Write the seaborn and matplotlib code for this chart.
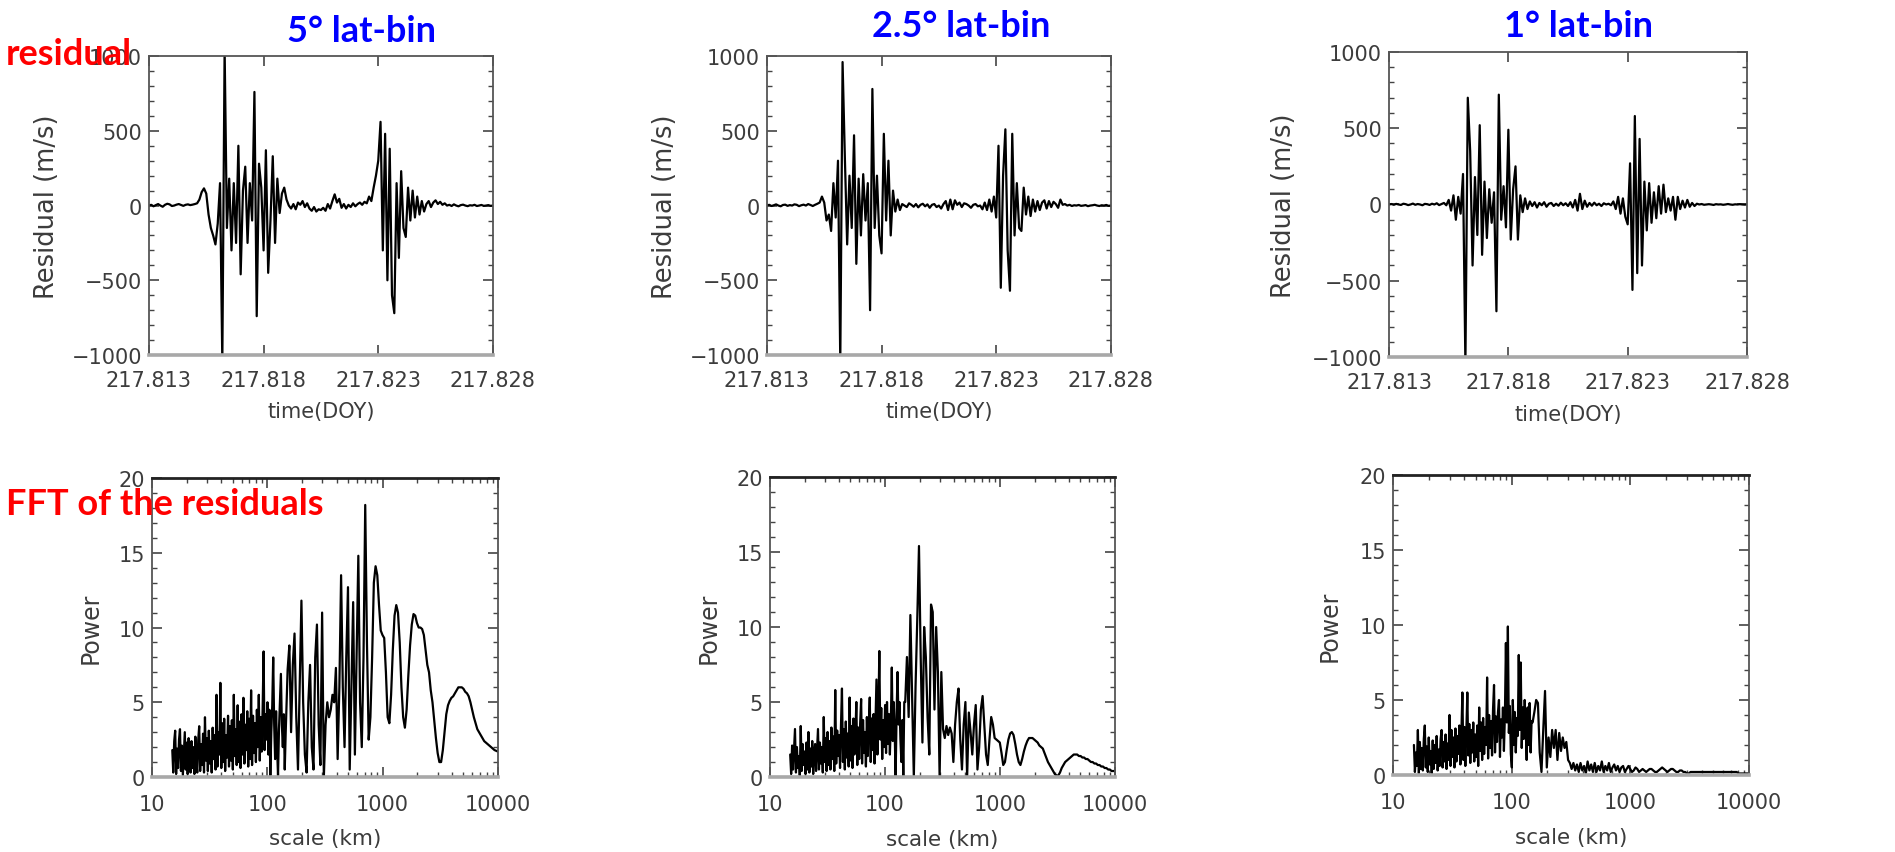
import numpy as np
import seaborn as sns
import matplotlib.pyplot as plt
from matplotlib.ticker import AutoMinorLocator, LogLocator, NullFormatter, NullLocator

# residual time series (m/s), one sample every 0.0001 DOY from 217.813 to 217.828
resid_5deg = [
    0, 5, -5, 3, 10, 0, -8, 5, 12, 8, -3, 0, 6, 10, 4, -2, 5, 8, 3, 6, 10, 15,
    40, 90, 115, 80, -60, -150, -200, -260, -120, 150,
    -1050, 1050, -150, 180, -300, 150, -250, 400, -460, 100,
    260, -250, 150, -100, 760, -740, 280, 120, -300, 370,
    -450, -100, 330, -250, 180, -50, 80, 120, 40, 0,
    -20, 10, -25, 20, 5, 30, -10, 15, -20, -35,
    -10, -40, -25, -30, -15, -35, 10, -20, 30, 75,
    20, 45, -15, 10, -20, 5, -10, 15, -5, 10,
    20, 5, 25, 15, 60, 30, 120, 200, 300, 560,
    -300, 480, -500, 380, -600, -720, 150, -350, 230, -150,
    -210, 120, -100, 100, -80, 60, -60, 30, -40, 10,
    30, -10, 20, 35, 10, 25, 5, 15, 0,
    5, -3, 8, 0, -5, 3, 6, 0, -4, 2, 0, 5, -3, 0, 4, -2, 0, 3, -2, 0,
]
resid_2p5deg = [
    0, 5, -3, 2, 8, 0, -5, 4, 6, -2, 3, 0, 8, 5, -4, 2, 6, 0, 10, 4, -3, 5, 12,
    20, 60, 20, -100, -60, -170, 150, -80, 300, -1050,
    960, 320, -260, 200, -150, 470, -390, 180, -200, 210,
    -100, 150, -700, 780, -150, 200, -200, -320, 480, -100,
    300, -200, 100, -40, 40, -30, 10, 0, -10, 15,
    5, -8, 10, -12, 5, 12, -5, 8, -15, 5,
    10, -10, 0, -20, 10, 30, -30, 40, -25, 35,
    5, 20, -10, 15, 10, 0, -15, 5, 10, -5,
    0, -25, 20, -30, 40, -40, 60, -80, 400, -550,
    200, 510, -300, -570, 480, -200, 150, -150, -170, 120,
    -60, 60, -70, 40, -40, 30, -30, 20, 35, -20,
    30, -10, 25, 10, -15, 40, 5, 10,
    0, 5, -3, 2, 0, 4, -2, 0, 3, -4, 0, 2, 5, 0, -3, 2, 0, 4, -2, 0,
]
resid_1deg = [
    0, 3, -2, 4, 0, -3, 5, 2, -4, 0, 6, -2, 3, 0, -5, 4, 2, -3, 5, 0, 8, -4, 3, 10, -5,
    30, -40, 60, -100, 50, -60, 200, -1050, 700, 350,
    -400, 180, -200, 520, -330, 150, -220, 100, -120, 80,
    -700, 720, -100, 120, -150, 490, -230, 100, 250, -230,
    60, -50, 40, -30, 20, -10, 15, -20, 10, -5,
    15, -15, 5, 10, -10, 5, -8, 12, -5, 8,
    -10, 15, -20, 30, -40, 70, -30, 25, -15, 10,
    -8, 12, -5, 5, -10, 8, 0, 5, -5, 20,
    -30, 50, -60, 40, -80, -130, 270, -560, 580, -450,
    430, -400, 150, -170, 140, -120, 80, -90, 120, -60,
    130, -50, 40, -40, 50, -100, 50, -30, 25, -20,
    30, -15, 10, -10, 5,
    0, 3, -2, 0, 2, 0, -3, 2, 0, 1, -2, 0, 3, 0, -2, 1, 0, 2, 0, -1, 0,
]

# FFT power: small scales (15-150 km, log-even, dense) ...
power_5deg_fine = [
    1.8, 0.3, 2.4, 3.1, 0.2, 1.9, 0.6, 2.5, 3.2, 0.4,
    2.1, 0.1, 1.6, 3.0, 0.5, 2.3, 0.2, 2.6, 1.2, 0.3,
    2.4, 0.6, 2.0, 0.2, 2.7, 1.0, 0.3, 2.5, 3.4, 0.4,
    2.2, 0.8, 2.9, 0.3, 4.0, 1.1, 2.6, 0.4, 3.1, 0.9,
    2.4, 0.3, 3.3, 1.2, 2.8, 0.5, 5.5, 0.7, 3.0, 1.5,
    6.3, 0.6, 3.6, 1.0, 3.9, 0.4, 2.8, 1.3, 4.1, 0.7,
    3.4, 1.1, 3.8, 0.5, 5.5, 1.4, 3.2, 0.8, 4.8, 1.0,
    3.7, 0.6, 4.2, 1.5, 5.3, 0.9, 3.5, 1.8, 4.4, 0.7,
    3.9, 1.2, 5.8, 0.8, 4.1, 1.6, 3.6, 1.0, 4.5, 2.0,
    5.5, 1.1, 4.0, 1.7, 4.6, 8.4, 1.8, 4.2, 2.5, 5.0,
    1.5, 4.5, 0.1, 3.0, 4.8, 8.0, 3.5, 1.2, 4.4, 2.0,
    0.1, 3.2, 5.0, 6.9, 3.5, 2.0, 4.2, 0.5, 3.0, 5.0,
]
power_2p5deg_fine = [
    1.5, 0.2, 2.1, 0.5, 1.8, 3.2, 0.3, 2.0, 0.6, 1.4,
    0.1, 3.4, 0.4, 2.2, 0.8, 1.7, 0.2, 2.3, 0.5, 3.0,
    0.3, 1.9, 0.7, 2.4, 0.2, 1.6, 2.2, 0.4, 1.8, 3.2,
    0.5, 2.3, 0.9, 2.0, 0.3, 4.0, 1.0, 2.6, 0.4, 3.0,
    0.8, 2.4, 0.5, 3.3, 1.2, 2.7, 0.4, 5.8, 0.9, 3.1,
    1.4, 2.8, 0.6, 3.5, 5.9, 1.0, 3.2, 0.5, 3.7, 1.3,
    2.9, 0.7, 5.3, 1.1, 3.4, 0.6, 3.9, 1.5, 2.8, 5.0,
    0.8, 3.3, 1.2, 3.6, 5.2, 0.9, 3.8, 1.6, 3.0, 0.7,
    4.0, 1.4, 3.5, 5.3, 1.0, 3.9, 1.8, 4.2, 0.9, 3.6,
    6.5, 1.5, 4.3, 8.4, 2.5, 4.6, 1.2, 3.8, 2.0, 4.8,
    1.6, 5.0, 2.2, 4.2, 1.5, 3.6, 7.3, 2.4, 5.0, 3.0,
    0.0, 4.2, 7.0, 3.5, 5.0, 2.5, 1.0, 3.8, 0.0, 5.0,
]
power_1deg_fine = [
    2.0, 0.2, 1.5, 0.6, 3.0, 0.1, 2.2, 0.4, 1.8, 0.3,
    2.4, 3.3, 0.5, 1.9, 0.2, 2.5, 0.7, 1.6, 0.1, 2.3,
    0.4, 2.0, 0.8, 2.6, 0.3, 1.7, 0.6, 2.4, 3.0, 0.5,
    2.2, 0.9, 2.7, 0.4, 2.1, 1.0, 4.0, 0.6, 3.0, 1.2,
    2.5, 0.5, 3.1, 0.9, 2.6, 1.4, 3.3, 0.7, 2.8, 5.5,
    1.0, 3.2, 0.6, 2.9, 5.5, 1.3, 3.4, 0.8, 3.0, 1.5,
    3.5, 0.9, 2.7, 1.2, 3.3, 0.6, 4.5, 1.6, 3.5, 1.0,
    3.8, 1.4, 3.2, 2.0, 6.5, 1.1, 4.0, 1.8, 3.6, 1.3,
    4.4, 6.0, 1.5, 3.9, 2.2, 4.2, 5.0, 1.2, 3.7, 2.5,
    4.5, 1.6, 4.0, 8.8, 3.5, 9.9, 2.8, 4.6, 1.4, 0.5,
    5.0, 2.0, 4.2, 1.5, 3.8, 2.6, 8.0, 3.0, 7.5, 1.8,
    4.5, 2.4, 5.0, 3.2, 1.0, 4.5, 2.0, 4.8, 1.5, 3.6,
]
# ... and large scales (150-10000 km, log-even)
power_5deg_coarse = [
    7.2, 8.8, 3.0, 7.5, 9.6, 4.0, 0.5, 6.0, 11.8,
    5.0, 1.5, 0.3, 5.0, 7.5, 2.0, 0.5, 8.0, 10.2, 3.5,
    0.8, 11.0, 0.0, 3.5, 5.0, 4.0, 4.5, 5.5, 5.0, 7.3,
    1.2, 6.0, 13.5, 6.0, 2.0, 8.0, 12.7, 0.5, 6.0, 11.7,
    1.5, 8.0, 14.8, 5.0, 2.0, 8.0, 18.2, 9.0, 2.5, 4.0,
    8.0, 13.0, 14.1, 13.5, 11.5, 9.8, 9.5, 9.3, 7.0, 4.0,
    3.6, 5.5, 8.5, 10.8, 11.5, 11.0, 9.0, 6.0, 4.0, 3.3,
    4.5, 6.8, 8.8, 10.2, 10.9, 10.8, 10.3, 10.0, 10.0, 9.9,
    9.5, 8.5, 7.5, 7.0, 5.8, 5.0, 3.8, 2.6, 1.6, 1.0,
    1.0, 1.8, 3.0, 4.2, 4.8, 5.1, 5.3, 5.4, 5.6, 5.8,
    6.0, 6.0, 6.0, 5.9, 5.7, 5.6, 5.4, 5.0, 4.5, 4.0,
    3.6, 3.2, 3.0, 2.8, 2.6, 2.4, 2.3, 2.2, 2.1, 2.0,
    1.9, 1.8, 1.75, 1.7,
]
power_2p5deg_coarse = [
    5.0, 8.0, 4.0,
    10.8, 5.5, 0.0, 6.0, 10.5, 15.4, 8.0, 2.3, 10.0, 8.0,
    4.0, 1.5, 11.5, 11.0, 4.5, 10.0, 7.0, 0.0, 7.0, 3.2,
    2.6, 3.4, 2.8, 3.3, 2.9, 1.0, 3.5, 5.0, 5.9, 2.5,
    0.5, 3.5, 5.0, 0.0, 4.3, 3.0, 1.5, 3.5, 4.8, 0.5,
    2.0, 4.5, 5.4, 3.5, 1.5, 0.8, 2.5, 4.0, 3.5, 2.6,
    2.5, 2.4, 2.3, 1.6, 0.8, 1.0, 1.8, 2.5, 2.9, 3.0,
    2.8, 2.2, 1.5, 1.0, 0.8, 1.2, 1.7, 2.1, 2.4, 2.6,
    2.6, 2.6, 2.5, 2.4, 2.3, 2.1, 2.0, 1.9, 1.6, 1.3,
    1.0, 0.8, 0.6, 0.4, 0.2, 0.1, 0.1, 0.3, 0.6, 0.8,
    1.0, 1.1, 1.2, 1.3, 1.4, 1.5, 1.5, 1.5, 1.4, 1.4,
    1.3, 1.3, 1.2, 1.2, 1.1, 1.0, 1.0, 0.9, 0.9, 0.8,
    0.8, 0.7, 0.7, 0.6, 0.6, 0.5, 0.5, 0.4, 0.4, 0.4,
]
power_1deg_coarse = [
    3.5, 4.2, 5.0,
    4.8, 1.5, 0.2, 3.0, 5.6, 0.5, 2.5, 1.2, 3.0, 1.8,
    3.0, 1.0, 2.8, 1.6, 2.5, 1.8, 2.2, 1.0, 0.8, 0.4,
    0.8, 0.3, 0.7, 0.2, 0.8, 0.3, 0.6, 0.1, 0.9, 0.3,
    0.7, 0.2, 0.8, 0.2, 0.6, 0.3, 0.9, 0.2, 0.6, 0.3,
    0.8, 0.2, 0.5, 0.7, 0.3, 0.6, 0.2, 0.5, 0.6, 0.2,
    0.4, 0.6, 0.4, 0.2, 0.3, 0.5, 0.4, 0.2, 0.3, 0.4,
    0.3, 0.2, 0.3, 0.4, 0.4, 0.3, 0.2, 0.2, 0.3, 0.4,
    0.5, 0.4, 0.3, 0.2, 0.3, 0.4, 0.4, 0.3, 0.2, 0.2,
    0.3, 0.3, 0.2, 0.2, 0.1, 0.1, 0.2, 0.2, 0.2, 0.2,
    0.2, 0.2, 0.2, 0.2, 0.2, 0.2, 0.2, 0.2, 0.2, 0.2,
    0.2, 0.2, 0.2, 0.2, 0.2, 0.2, 0.2, 0.2, 0.2, 0.2,
    0.2, 0.2, 0.2, 0.1, 0.1, 0.1, 0.1, 0.1, 0.1, 0.1,
]

bin_titles = ["5° lat-bin", "2.5° lat-bin", "1° lat-bin"]
time_ticks = [217.813, 217.818, 217.823, 217.828]
time_labels = ["217.813", "217.818", "217.823", "217.828"]
scale_ticks = [10, 100, 1000, 10000]
scale_labels = ["10", "100", "1000", "10000"]

sns.set_theme(style="white")
plt.rcParams["font.family"] = ["DejaVu Sans"]
title_font = ["Lato", "DejaVu Sans"]
gray = "#3c3c3c"

fig = plt.figure(figsize=(18.95, 8.53), dpi=100)

top_boxes = [[0.0786, 0.5826, 0.1815, 0.3505],
             [0.4047, 0.5826, 0.1815, 0.3505],
             [0.7330, 0.5803, 0.1889, 0.3576]]
bottom_boxes = [[0.0802, 0.0879, 0.1826, 0.3505],
                [0.4063, 0.0879, 0.1821, 0.3517],
                [0.7351, 0.0903, 0.1879, 0.3517]]


def idl_style(ax, xpad):
    for sp in ax.spines.values():
        sp.set_color("#555555")
        sp.set_linewidth(1.3)
    ax.spines["bottom"].set_color("#a8a8a8")
    ax.spines["bottom"].set_linewidth(2.6)
    ax.tick_params(which="both", direction="in", top=True, right=True,
                   bottom=True, left=True, color="#444444",
                   labelcolor=gray, labelsize=15)
    ax.tick_params(which="major", length=7, width=1.2)
    ax.tick_params(which="minor", length=3.5, width=1.0)
    ax.tick_params(axis="x", pad=xpad)
    ax.tick_params(axis="y", pad=5)


residuals = [resid_5deg, resid_2p5deg, resid_1deg]
powers_fine = [power_5deg_fine, power_2p5deg_fine, power_1deg_fine]
powers_coarse = [power_5deg_coarse, power_2p5deg_coarse, power_1deg_coarse]

for k in range(3):
    # residual panels
    ax = fig.add_axes(top_boxes[k])
    vals = np.array(residuals[k], dtype=float)
    time = np.linspace(217.813, 217.828, len(vals))
    sns.lineplot(x=time, y=vals, ax=ax, color="black", linewidth=1.6,
                 sort=False, estimator=None)
    ax.set_xlim(217.813, 217.828)
    ax.set_ylim(-1000, 1000)
    ax.set_xticks(time_ticks)
    ax.set_xticklabels(time_labels)
    ax.set_yticks([-1000, -500, 0, 500, 1000])
    ax.xaxis.set_minor_locator(NullLocator())
    ax.yaxis.set_minor_locator(AutoMinorLocator(5))
    idl_style(ax, 11)
    ax.set_xlabel("time(DOY)", fontsize=15, color=gray)
    ax.set_ylabel("Residual (m/s)", fontsize=18.5, color=gray)
    ax.xaxis.set_label_coords(0.5, -0.155)
    ax.yaxis.set_label_coords(-0.258, 0.5)

    # FFT panels
    ax = fig.add_axes(bottom_boxes[k])
    fine = np.array(powers_fine[k], dtype=float)
    coarse = np.array(powers_coarse[k], dtype=float)
    pw = np.concatenate([fine, coarse])
    scale = np.concatenate([np.geomspace(15, 150, len(fine), endpoint=False),
                            np.geomspace(150, 10000, len(coarse))])
    sns.lineplot(x=scale, y=pw, ax=ax, color="black", linewidth=1.6,
                 sort=False, estimator=None)
    ax.set_xscale("log")
    ax.set_xlim(10, 10000)
    ax.set_ylim(0, 20)
    ax.set_xticks(scale_ticks)
    ax.set_xticklabels(scale_labels)
    ax.xaxis.set_minor_locator(LogLocator(base=10, subs=np.arange(2, 10)))
    ax.xaxis.set_minor_formatter(NullFormatter())
    ax.set_yticks([0, 5, 10, 15, 20])
    ax.yaxis.set_minor_locator(AutoMinorLocator(5))
    idl_style(ax, 12)
    ax.spines["top"].set_color("#222222")
    ax.spines["top"].set_linewidth(2.0)
    ax.set_xlabel("scale (km)", fontsize=15.5, color=gray)
    ax.set_ylabel("Power", fontsize=17, color=gray)
    ax.xaxis.set_label_coords(0.5, -0.172)
    ax.yaxis.set_label_coords(-0.143, 0.5)

# blue column titles and red row labels
title_x = [0.1910, 0.5071, 0.8332]
title_y = [0.9508, 0.9566, 0.9566]
for k in range(3):
    fig.text(title_x[k], title_y[k], bin_titles[k], color="#0000ff",
             fontsize=26, fontweight="bold", family=title_font,
             ha="center", va="baseline")

fig.text(0.0032, 0.9238, "residual", color="#ff0000", fontsize=26,
         fontweight="bold", family=title_font, ha="left", va="baseline")
fig.text(0.0032, 0.3962, "FFT of the residuals", color="#ff0000", fontsize=26,
         fontweight="bold", family=title_font, ha="left", va="baseline")

fig.savefig("out.png", dpi=100, facecolor="white")
